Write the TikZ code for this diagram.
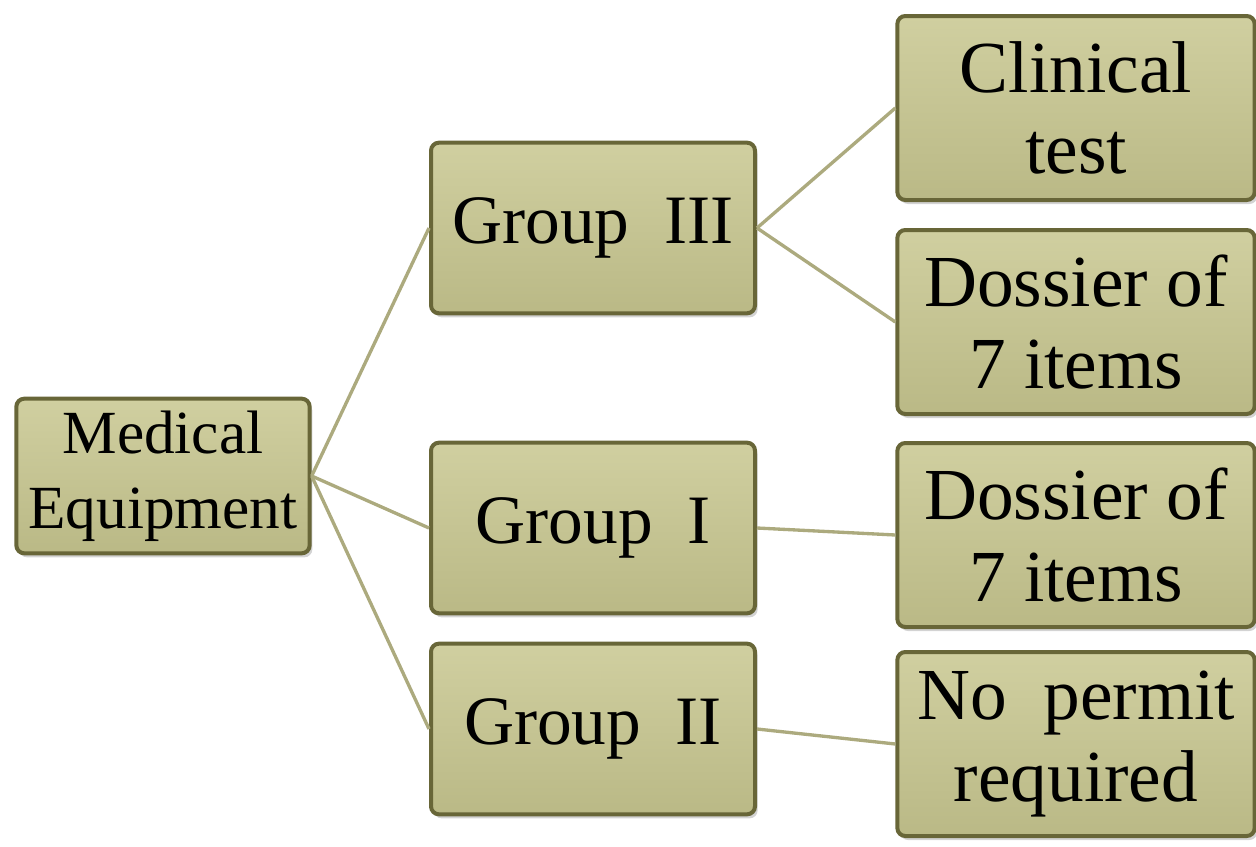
\documentclass[tikz,border=0pt]{standalone}
\usepackage{fontspec}
\setmainfont{Liberation Serif}
\usetikzlibrary{positioning}
\usetikzlibrary{shadows}
\definecolor{boxfill}{RGB}{186,185,134}
\definecolor{boxlight}{RGB}{208,207,160}
\definecolor{boxedge}{RGB}{104,102,56}
\definecolor{linkline}{RGB}{172,170,126}
\tikzset{
  box/.style={draw=boxedge, line width=3pt, rounded corners=6pt,
    top color=boxlight, bottom color=boxfill, align=center, inner sep=0pt,
    drop shadow={shadow xshift=2pt, shadow yshift=-3pt, opacity=0.35}},
  rootbox/.style={box, minimum width=220pt, minimum height=116pt,
    font=\fontsize{46}{56}\selectfont},
  groupbox/.style={box, minimum width=243pt, minimum height=128pt,
    font=\fontsize{52}{60}\selectfont},
  leafbox/.style={box, minimum width=268pt, minimum height=138pt,
    font=\fontsize{55}{61}\selectfont},
  link/.style={draw=linkline, line width=2.5pt}
}
\begin{document}
\begin{tikzpicture}[x=0.75pt, y=-0.75pt]
  \useasboundingbox (0,0) rectangle (1256,846);

  % tree, left to right
  \node [rootbox] (equip) at (163,476) {Medical\\Equipment};

  \node [groupbox] (g3) at (593,228) {Group~~III};
  \node [groupbox] (g1) at (593,528) {Group~~I};
  \node [groupbox] (g2) at (593,729) {Group~~II};

  \node [leafbox] (clin) at (1076,108) {Clinical\\test};
  \node [leafbox] (dos3) at (1076,322) {Dossier of\\7 items};
  \node [leafbox] (dos1) at (1076,535) {Dossier of\\7 items};
  \node [leafbox] (nop) at (1076,744) {No~~permit\\required};

  \draw [link] (equip.east) -- (g3.west);
  \draw [link] (equip.east) -- (g1.west);
  \draw [link] (equip.east) -- (g2.west);
  \draw [link] (g3.east) -- (clin.west);
  \draw [link] (g3.east) -- (dos3.west);
  \draw [link] (g1.east) -- (dos1.west);
  \draw [link] (g2.east) -- (nop.west);
\end{tikzpicture}
\end{document}
